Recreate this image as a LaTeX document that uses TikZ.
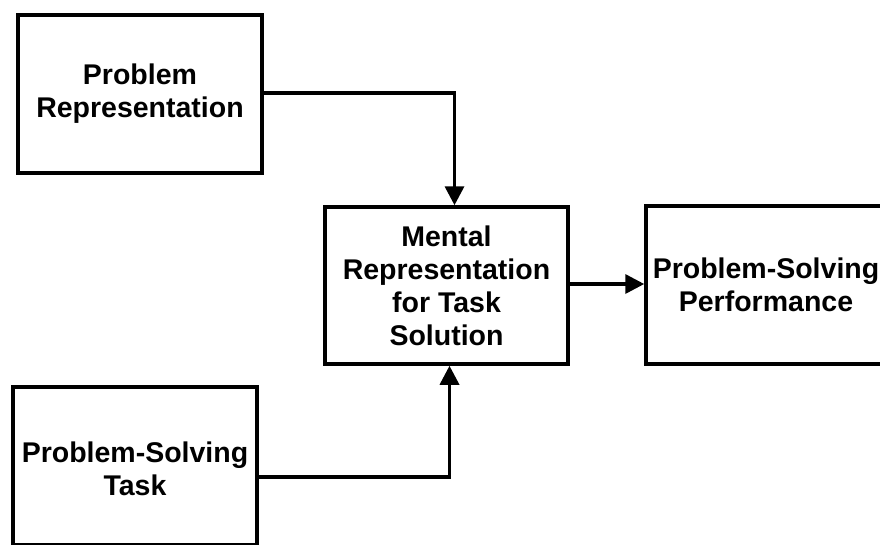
\documentclass[tikz,border=0pt]{standalone}
\usepackage{fontspec}
\setmainfont{Liberation Sans}
\usetikzlibrary{arrows.meta}
\begin{document}
\begin{tikzpicture}[x=1pt,y=-1pt,
  label font/.style={font=\fontsize{28.5}{33}\selectfont\bfseries},
  box/.style={draw=black,line width=3.5pt,minimum width=244pt,minimum height=158pt,
    align=center,inner sep=0pt,label font},
  arr/.style={line width=3.5pt,-{Triangle[length=19pt,width=19pt]}}]
  \clip (0,0) rectangle (880,544);
  \fill[white] (0,0) rectangle (880,544);
  % boxes
  \node[box] (pr)  at (140,94)  {Problem\\Representation};
  \node[box,minimum width=243pt,minimum height=157pt] (mr) at (446.5,285.5) {Mental\\Representation\\for Task\\Solution};
  \node[box,minimum width=240pt] (psp) at (766,285) {Problem-Solving\\Performance};
  \node[box] (pst) at (135,466) {};
  \node[label font,align=center] (pstl) at (135,469) {Problem-Solving\\Task};
  % connectors
  \draw[arr] ([yshift=1pt]pr.east) -| ([xshift=8pt]mr.north);
  \draw[arr] ([yshift=-11pt]pst.east) -| ([xshift=3pt]mr.south);
  \draw[arr] ([yshift=1.5pt]mr.east) -- ([yshift=1.5pt]mr.east -| psp.west);
\end{tikzpicture}
\end{document}
